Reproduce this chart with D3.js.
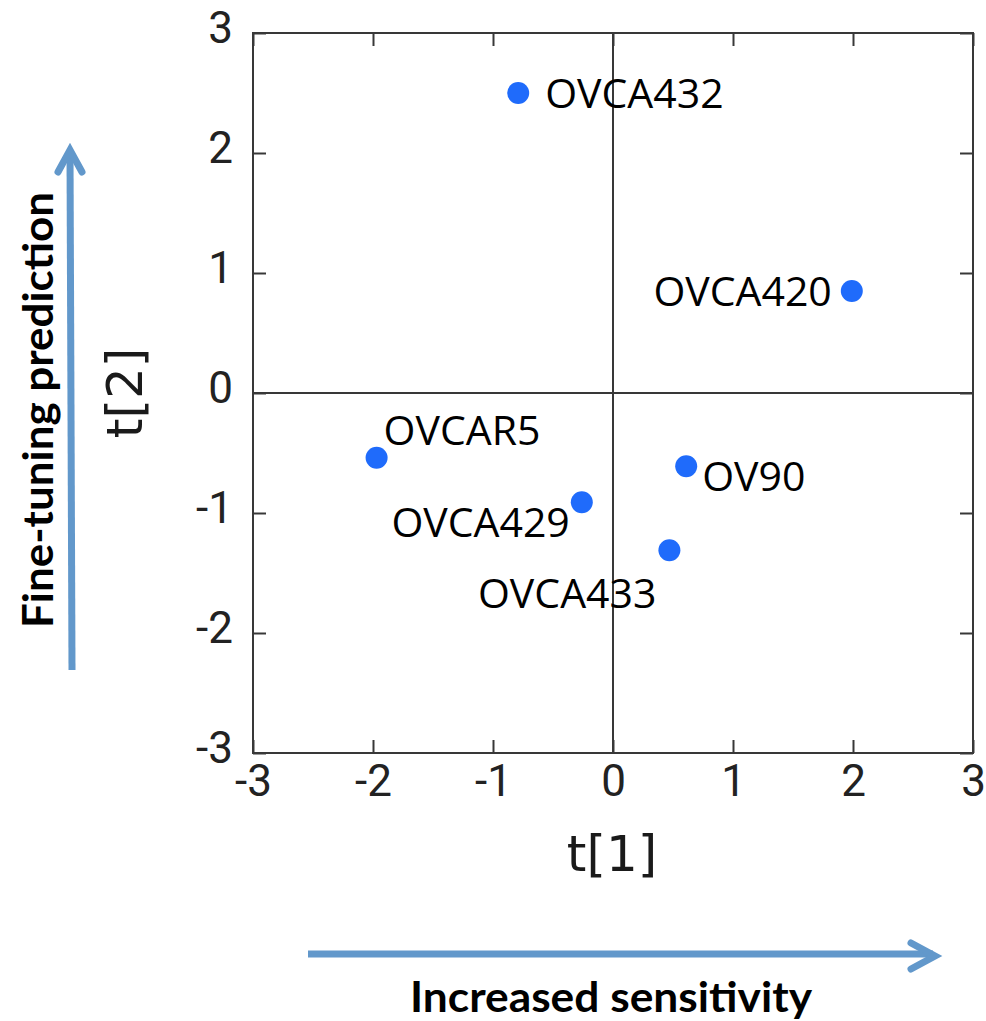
<!DOCTYPE html>
<html>
<head>
<meta charset="utf-8">
<script src="https://cdn.jsdelivr.net/npm/d3@7"></script>
<style>
  html, body { margin: 0; padding: 0; background: #fff; }
  svg { display: block; }
</style>
</head>
<body>
<svg id="chart" width="986" height="1021"></svg>
<script>
// Score values of each cell line on the first two components
const cellLines = ["OVCA432", "OVCA420", "OVCAR5", "OVCA429", "OV90", "OVCA433"];
const t1Values  = [-0.79, 1.99, -1.97, -0.26, 0.61, 0.47];
const t2Values  = [ 2.50, 0.85, -0.54, -0.91, -0.61, -1.31];
const tickValues = [-3, -2, -1, 0, 1, 2, 3];

// Label placement around each dot: [dx, dy, anchor]
const labelPlacement = {
  OVCA432: [27, 15, "start"],
  OVCA420: [-20, 15, "end"],
  OVCAR5:  [7, -13, "start"],
  OVCA429: [-12, 35, "end"],
  OV90:    [16, 25, "start"],
  OVCA433: [-13, 58, "end"]
};

const svg = d3.select("#chart");
const plotLeft = 253, plotRight = 973, plotTop = 33, plotBottom = 753;

const x = d3.scaleLinear().domain([-3, 3]).range([plotLeft, plotRight]);
const y = d3.scaleLinear().domain([-3, 3]).range([plotBottom, plotTop]);

const frameColor = "#383838";
const tickFont = "Roboto, 'Liberation Sans', sans-serif";
const fmt = d => d3.format("d")(d).replace("\u2212", "-");

// Zero reference lines
svg.append("line")
  .attr("x1", x(0)).attr("x2", x(0)).attr("y1", plotTop).attr("y2", plotBottom)
  .attr("stroke", frameColor).attr("stroke-width", 2);
svg.append("line")
  .attr("x1", plotLeft).attr("x2", plotRight).attr("y1", y(0)).attr("y2", y(0))
  .attr("stroke", frameColor).attr("stroke-width", 2);

// Axes with inward ticks on all four sides
function styleAxis(g) {
  g.select(".domain").remove();
  g.selectAll(".tick line").attr("stroke", frameColor).attr("stroke-width", 2);
  g.selectAll(".tick text")
    .attr("fill", "#222")
    .style("font-family", tickFont)
    .style("font-size", "44px");
}

svg.append("g")
  .attr("transform", `translate(0,${plotBottom})`)
  .call(d3.axisBottom(x).tickValues(tickValues).tickSize(-13).tickPadding(0).tickFormat(fmt))
  .call(styleAxis)
  .call(g => g.selectAll(".tick text").attr("y", 43).attr("dy", 0));

svg.append("g")
  .attr("transform", `translate(${plotLeft},0)`)
  .call(d3.axisLeft(y).tickValues(tickValues).tickSize(-13).tickPadding(20).tickFormat(fmt))
  .call(styleAxis)
  .call(g => g.selectAll(".tick text").attr("dy", 0).attr("y", 9));

svg.append("g")
  .attr("transform", `translate(0,${plotTop})`)
  .call(d3.axisTop(x).tickValues(tickValues).tickSize(-13).tickFormat(""))
  .call(styleAxis);

svg.append("g")
  .attr("transform", `translate(${plotRight},0)`)
  .call(d3.axisRight(y).tickValues(tickValues).tickSize(-13).tickFormat(""))
  .call(styleAxis);

// Plot frame
svg.append("rect")
  .attr("x", plotLeft).attr("y", plotTop)
  .attr("width", plotRight - plotLeft).attr("height", plotBottom - plotTop)
  .attr("fill", "none").attr("stroke", frameColor).attr("stroke-width", 2);

// Axis titles
svg.append("text")
  .attr("x", (plotLeft + plotRight) / 2 - 1).attr("y", 871)
  .attr("text-anchor", "middle")
  .style("font-family", "'DejaVu Sans', sans-serif")
  .style("font-size", "50px")
  .attr("fill", "#1a1a1a")
  .text("t[1]");

svg.append("text")
  .attr("transform", `translate(142,${(plotTop + plotBottom) / 2}) rotate(-90)`)
  .attr("text-anchor", "middle")
  .style("font-family", "'DejaVu Sans', sans-serif")
  .style("font-size", "50px")
  .attr("fill", "#1a1a1a")
  .text("t[2]");

// Points
const points = cellLines.map((name, i) => ({ name, t1: t1Values[i], t2: t2Values[i] }));

svg.append("g").selectAll("circle")
  .data(points)
  .join("circle")
  .attr("cx", d => x(d.t1))
  .attr("cy", d => y(d.t2))
  .attr("r", 11)
  .attr("fill", "#1f6bfb");

svg.append("g").selectAll("text")
  .data(points)
  .join("text")
  .attr("x", d => x(d.t1) + labelPlacement[d.name][0])
  .attr("y", d => y(d.t2) + labelPlacement[d.name][1])
  .attr("text-anchor", d => labelPlacement[d.name][2])
  .style("font-family", "'Open Sans', sans-serif")
  .style("font-size", "41px")
  .attr("fill", "#000")
  .text(d => d.name);

// Interpretation arrows
const arrowColor = "#6298cb";

svg.append("line")
  .attr("x1", 72).attr("y1", 670).attr("x2", 70).attr("y2", 152)
  .attr("stroke", arrowColor).attr("stroke-width", 7);
svg.append("path")
  .attr("d", "M58,172 L70,150 L82,172")
  .attr("fill", "none").attr("stroke", arrowColor).attr("stroke-width", 7)
  .attr("stroke-linecap", "round").attr("stroke-linejoin", "miter");

svg.append("line")
  .attr("x1", 308).attr("y1", 954).attr("x2", 933).attr("y2", 954)
  .attr("stroke", arrowColor).attr("stroke-width", 7);
svg.append("path")
  .attr("d", "M911,943 L935,956 L911,969")
  .attr("fill", "none").attr("stroke", arrowColor).attr("stroke-width", 7)
  .attr("stroke-linecap", "round").attr("stroke-linejoin", "miter");

// Interpretation captions
svg.append("text")
  .attr("transform", "translate(53,628) rotate(-90)")
  .attr("text-anchor", "start")
  .attr("textLength", 436)
  .attr("lengthAdjust", "spacingAndGlyphs")
  .style("font-family", "Lato, 'Open Sans', sans-serif")
  .style("font-weight", "bold")
  .style("font-size", "42px")
  .attr("fill", "#000")
  .text("Fine-tuning prediction");

svg.append("text")
  .attr("x", 410).attr("y", 1012)
  .attr("text-anchor", "start")
  .attr("textLength", 402)
  .attr("lengthAdjust", "spacingAndGlyphs")
  .style("font-family", "Lato, 'Open Sans', sans-serif")
  .style("font-weight", "bold")
  .style("font-size", "42px")
  .attr("fill", "#000")
  .text("Increased sensitivity");
</script>
</body>
</html>
